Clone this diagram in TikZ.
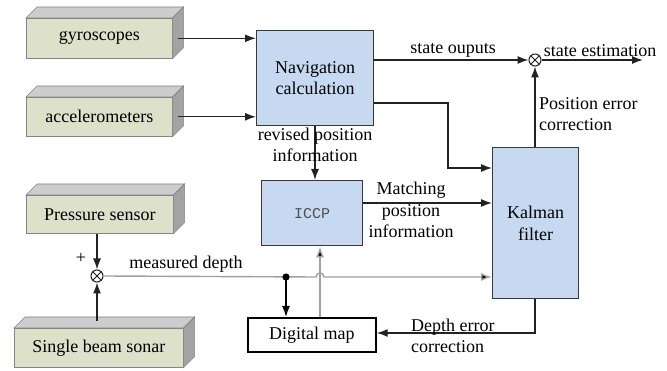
\documentclass[tikz,border=0pt]{standalone}
\usepackage{fontspec}
\setmainfont{Liberation Serif}
\newfontfamily\tnr{Liberation Serif}
\newfontfamily\iccpfont{Liberation Mono}
\usetikzlibrary{arrows.meta,calc}
\definecolor{gface}{HTML}{DDE1CA}
\definecolor{gtop}{HTML}{CDCDCD}
\definecolor{gside}{HTML}{A3A3A3}
\definecolor{gedge}{HTML}{858585}
\definecolor{bfill}{HTML}{C6D9F0}
\definecolor{ln}{HTML}{222222}
\definecolor{lgray}{HTML}{A0A0A0}
\tikzset{
  every node/.style={font=\tnr\fontsize{18}{21.5}\selectfont},
  gbox/.style={draw=gedge,fill=gface,line width=0.6pt,anchor=north west,inner sep=0pt},
  bbox/.style={draw=ln!90,fill=bfill,line width=1.3pt,anchor=north west,inner sep=0pt,align=center},
  wbox/.style={draw=black,fill=white,line width=1.7pt,anchor=north west,inner sep=0pt},
  sumc/.style={draw=ln,circle,minimum size=12pt,inner sep=0pt,line width=1pt,fill=white},
  arr/.style={draw=ln,line width=1.4pt,-{Latex[length=11pt,width=8pt]}},
  garr/.style={draw=lgray,line width=1.4pt,-{Latex[length=11pt,width=8pt,fill=black]}},
  lbl/.style={inner sep=1pt,align=center},
}
\newcommand{\slab}[1]{%
  \draw[gedge,fill=gtop,line width=0.6pt] (#1.north west) -- ++(11,-11) -- ($(#1.north east)+(11,-11)$) -- (#1.north east) -- cycle;
  \draw[gedge,fill=gside,line width=0.6pt] (#1.north east) -- ++(11,-11) -- ($(#1.south east)+(11,-11)$) -- (#1.south east) -- cycle;}
\newcommand{\crossit}[1]{%
  \draw[ln,line width=1pt] (#1.north east) -- (#1.south west) (#1.north west) -- (#1.south east);}
\begin{document}
\begin{tikzpicture}[x=1pt,y=-1pt]
\useasboundingbox[fill=white] (0,0) rectangle (667,371);
% 3D source boxes
\node[gbox,minimum width=146pt,minimum height=40pt] (gyro) at (26,18) {gyroscopes};
\slab{gyro}
\node[gbox,minimum width=146pt,minimum height=39pt] (acc) at (26,97) {accelerometers};
\slab{acc}
\node[gbox,minimum width=147pt,minimum height=38pt] (pres) at (26,195) {Pressure sensor};
\slab{pres}
\node[gbox,minimum width=169pt,minimum height=39pt] (sonar) at (14,328) {Single beam sonar};
\slab{sonar}
% blocks
\node[bbox,minimum width=117pt,minimum height=95pt] (nav) at (256,30) {Navigation\\calculation};
\node[bbox,minimum width=101pt,minimum height=65pt,text=ln!80] (iccp) at (261,180) {\iccpfont\fontsize{15}{18}\selectfont ICCP};
\node[bbox,minimum width=86pt,minimum height=151pt] (kal) at (492,147) {Kalman\\filter};
\node[wbox,minimum width=128pt,minimum height=34pt] (dmap) at (247,317) {Digital map};
% summing junctions
\node[sumc] (s1) at (535,60) {};
\crossit{s1}
\node[sumc] (s2) at (97,276) {};
\crossit{s2}
\coordinate (outend) at (643,60);
\coordinate (dot) at (286,277);
% connectors
\draw[arr] ($(gyro.east)+(5,0)$) -- (nav.west |- gyro.east);
\draw[arr] ($(acc.east)+(5,0)$) -- (nav.west |- acc.east);
\draw[arr] (nav.east |- s1.west) -- (s1.west);
\draw[arr] (s1.east) -- (outend);
\draw[arr] (nav.east |- 0,103) -- (448,103) -- (448,168) -- (kal.west |- 0,168);
\draw[arr] (nav.south -| 315,0) -- (iccp.north -| 315,0);
\draw[arr] (iccp.east |- 0,203) -- (kal.west |- 0,203);
\draw[arr] (kal.north -| s1.south) -- (s1.south);
\draw[arr] (kal.south -| s1.south) -- (535,333) -- (dmap.east |- 0,333);
\draw[arr] (pres.south -| s2.north) -- (s2.north);
\draw[arr] (97,321) -- (s2.south);
\draw[garr] (s2.east) -- (316,277) .. controls (316,271.5) and (324,271.5) .. (324,277) -- (kal.west |- 0,277);
\fill[black] (dot) circle (3.6pt);
\draw[arr,draw=black] (dot) -- (dmap.north -| dot);
\draw[garr] (dmap.north -| 320,0) -- (iccp.south -| 320,0);
% labels
\node[lbl,anchor=south] (l1) at (453,59) {state ouputs};
\node[lbl,anchor=south] (l2) at (600,58) {state estimation};
\node[lbl,anchor=west,align=left] (l3) at (538,114) {Position error\\correction};
\node[lbl] (l4) at (315,145) {revised position\\information};
\node[lbl] (l5) at (411,210) {Matching\\position\\information};
\node[lbl] (l6) at (186,264) {measured depth};
\node[lbl,anchor=west,align=left] (l7) at (410,336) {Depth error\\correction};
\node[lbl] (l8) at (81,258) {+};
\end{tikzpicture}
\end{document}
